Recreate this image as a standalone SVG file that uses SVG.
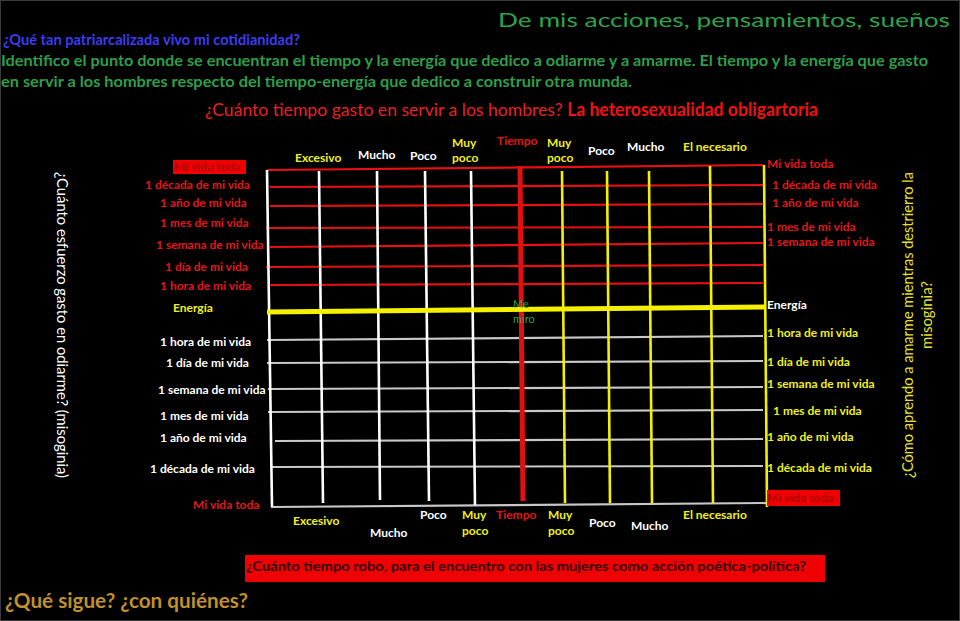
<svg xmlns="http://www.w3.org/2000/svg" width="960" height="621" viewBox="0 0 960 621">
<style>
text{font-family:Lato,"Liberation Sans",sans-serif}
.b{font-weight:bold;font-size:12px}
.r{fill:#e01818}
.w{fill:#ffffff}
.y{fill:#f0f020}
.dr{fill:#b00000}
.hr{stroke:#e81010;stroke-width:2.2}
.hg{stroke:#c8c8c8;stroke-width:2.2}
.vw{stroke:#ffffff;stroke-width:2.6}
.vy{stroke:#f4f000;stroke-width:2.6}
</style>
<rect x="0" y="0" width="960" height="621" fill="#000"/>
<rect x="0.5" y="0.5" width="959" height="620" fill="none" stroke="#3a3a3a"/>
<g id="header">
<text x="498" y="27" font-family="'Liberation Mono',monospace" font-size="20" fill="#2ea24a" textLength="452" lengthAdjust="spacingAndGlyphs">De mis acciones, pensamientos, sueños</text>
<text x="3" y="45" font-size="15" font-weight="bold" fill="#3c3cf0" textLength="297" lengthAdjust="spacingAndGlyphs">¿Qué tan patriarcalizada vivo mi cotidianidad?</text>
<text x="1" y="66" font-size="16" font-weight="bold" fill="#2e9e48" textLength="927" lengthAdjust="spacingAndGlyphs">Identifico el punto donde se encuentran el tiempo y la energía que dedico a odiarme y a amarme. El tiempo y la energía que gasto</text>
<text x="1" y="87" font-size="16" font-weight="bold" fill="#2e9e48" textLength="631" lengthAdjust="spacingAndGlyphs">en servir a los hombres respecto del tiempo-energía que dedico a  construir otra munda.</text>
<text x="205" y="116" font-size="18" fill="#e82020" textLength="613" lengthAdjust="spacingAndGlyphs">¿Cuánto tiempo gasto en servir a los hombres? <tspan font-weight="bold" fill="#f01010">La heterosexualidad obligartoria</tspan></text>
</g>
<g id="grid">
<line class="hr" x1="267" y1="170" x2="763" y2="165"/>
<line class="hr" x1="270" y1="187" x2="763" y2="185"/>
<line class="hr" x1="270" y1="206" x2="763" y2="204"/>
<line class="hr" x1="266" y1="228" x2="763" y2="227"/>
<line class="hr" x1="270" y1="247" x2="763" y2="243"/>
<line class="hr" x1="266" y1="267" x2="763" y2="265"/>
<line class="hr" x1="270" y1="285" x2="763" y2="283"/>
<line class="hg" x1="267" y1="340" x2="763" y2="336"/>
<line class="hg" x1="267" y1="363" x2="763" y2="361"/>
<line class="hg" x1="268" y1="389" x2="763" y2="387"/>
<line class="hg" x1="268" y1="412" x2="763" y2="410"/>
<line class="hg" x1="275" y1="441" x2="763" y2="439"/>
<line class="hg" x1="270" y1="467" x2="763" y2="466"/>
<line class="hg" x1="271" y1="507" x2="767" y2="503"/>
<line class="vw" x1="267" y1="170" x2="272" y2="507"/>
<line class="vw" x1="319" y1="171" x2="323" y2="503"/>
<line class="vw" x1="377" y1="171" x2="380" y2="500"/>
<line class="vw" x1="425" y1="171" x2="429" y2="501"/>
<line class="vw" x1="471" y1="171" x2="475" y2="505"/>
<line stroke="#e01010" stroke-width="5" x1="520" y1="166" x2="523" y2="501"/>
<line class="vy" x1="562" y1="171" x2="565" y2="503"/>
<line class="vy" x1="607" y1="171" x2="610" y2="503"/>
<line class="vy" x1="649" y1="171" x2="652" y2="503"/>
<line class="vy" x1="710" y1="166" x2="713" y2="503"/>
<line class="vy" x1="764" y1="165" x2="767" y2="507"/>
<line stroke="#f4f000" stroke-width="5" x1="267" y1="312" x2="766" y2="307"/>
</g>
<g id="top-labels" class="b">
<text class="y" x="295" y="162">Excesivo</text>
<text class="w" x="358" y="159">Mucho</text>
<text class="w" x="410" y="160">Poco</text>
<text class="y" x="452" y="147">Muy</text>
<text class="y" x="452" y="162">poco</text>
<text class="r" x="497" y="145">Tiempo</text>
<text class="y" x="547" y="147">Muy</text>
<text class="y" x="547" y="162">poco</text>
<text class="w" x="588" y="155">Poco</text>
<text class="w" x="627" y="151">Mucho</text>
<text class="y" x="683" y="151">El necesario</text>
</g>
<g id="bottom-labels" class="b">
<text class="y" x="293" y="525">Excesivo</text>
<text class="w" x="370" y="537">Mucho</text>
<text class="w" x="420" y="519">Poco</text>
<text class="y" x="462" y="519">Muy</text>
<text class="y" x="462" y="535">poco</text>
<text class="r" x="496" y="519">Tiempo</text>
<text class="y" x="548" y="519">Muy</text>
<text class="y" x="548" y="535">poco</text>
<text class="w" x="589" y="527">Poco</text>
<text class="w" x="631" y="530">Mucho</text>
<text class="y" x="683" y="519">El necesario</text>
</g>
<g id="left-labels" class="b">
<rect x="173" y="160" width="73" height="14" fill="#f00000"/>
<text class="dr" x="174" y="171">Mi vida toda</text>
<text class="r" x="145" y="189">1 década de mi vida</text>
<text class="r" x="160" y="207">1 año de mi vida</text>
<text class="r" x="160" y="227">1 mes de mi vida</text>
<text class="r" x="156" y="249">1 semana de mi vida</text>
<text class="r" x="165" y="271">1 día de mi vida</text>
<text class="r" x="160" y="290">1 hora de mi vida</text>
<text class="y" x="173" y="312">Energía</text>
<text class="w" x="160" y="346">1 hora de mi vida</text>
<text class="w" x="166" y="367">1 día de mi vida</text>
<text class="w" x="158" y="394">1 semana de mi vida</text>
<text class="w" x="160" y="420">1 mes de mi vida</text>
<text class="w" x="160" y="442">1 año de mi vida</text>
<text class="w" x="150" y="473">1 década de mi vida</text>
<text class="r" x="193" y="509">Mi vida toda</text>
</g>
<g id="right-labels" class="b">
<text class="r" x="767" y="168">Mi vida toda</text>
<text class="r" x="772" y="189">1 década de mi vida</text>
<text class="r" x="772" y="207">1 año de mi vida</text>
<text class="r" x="767" y="231">1 mes de mi vida</text>
<text class="r" x="767" y="246">1 semana de mi vida</text>
<text class="w" x="767" y="309">Energía</text>
<text class="y" x="767" y="337">1 hora de mi vida</text>
<text class="y" x="767" y="366">1 día de mi vida</text>
<text class="y" x="767" y="388">1 semana de mi vida</text>
<text class="y" x="773" y="415">1 mes de mi vida</text>
<text class="y" x="767" y="441">1 año de mi vida</text>
<text class="y" x="767" y="472">1 década de mi vida</text>
<rect x="767" y="490" width="73" height="16" fill="#f00000"/>
<text class="dr" x="767" y="502">Mi vida toda</text>
</g>
<g id="me-miro">
<text x="513" y="308" font-size="11" fill="#2e9e48">Me</text>
<text x="513" y="323" font-size="11" fill="#2e9e48">miro</text>
</g>
<g id="axis-left">
<text transform="translate(57,325) rotate(90)" text-anchor="middle" font-size="15" fill="#fff" textLength="306" lengthAdjust="spacingAndGlyphs">¿Cuánto esfuerzo gasto en odiarme? (misoginia)</text>
</g>
<g id="axis-right" fill="#e6e030" font-size="15" text-anchor="middle">
<text transform="translate(913,325) rotate(-90)" textLength="306" lengthAdjust="spacingAndGlyphs">¿Cómo aprendo a amarme mientras destrierro la</text>
<text transform="translate(932,315) rotate(-90)">misoginia?</text>
</g>
<g id="footer">
<rect x="245" y="555" width="580" height="27" fill="#f00000"/>
<text x="246" y="571" font-size="14" font-weight="bold" fill="#300000" textLength="560" lengthAdjust="spacingAndGlyphs">¿Cuánto tiempo robo, para el encuentro con las mujeres como acción poética-política?</text>
<text x="5" y="608" font-size="20" font-weight="bold" fill="#c0902c" textLength="243" lengthAdjust="spacingAndGlyphs">¿Qué sigue? ¿con quiénes?</text>
</g>
</svg>
